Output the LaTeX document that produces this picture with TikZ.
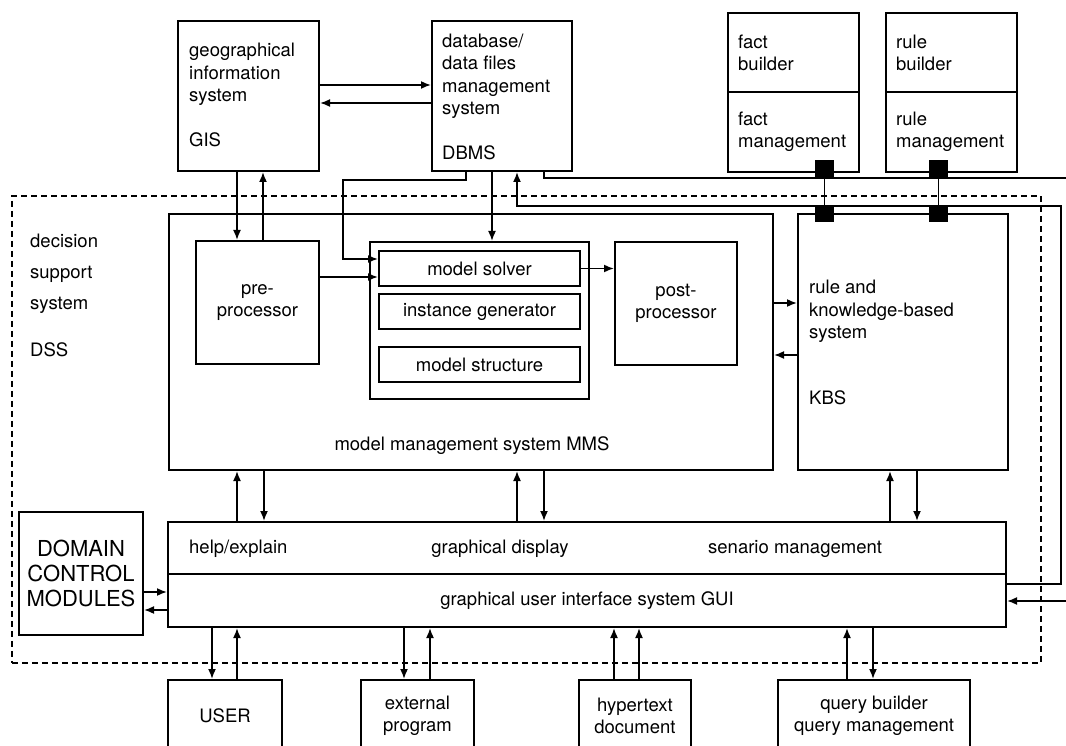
\documentclass[tikz,border=0pt]{standalone}
\usepackage{fontspec}
\setmainfont{TeX Gyre Heros}
\usepackage{tikz}
\usetikzlibrary{arrows.meta}

\begin{document}
\begin{tikzpicture}[x=1pt, y=1pt, >={Latex[length=10pt,width=8pt]},
  every node/.style={font=\fontsize{18.5pt}{22.5pt}\selectfont},
  box/.style={draw, line width=2pt, inner sep=0pt, anchor=north west, align=center},
  txt/.style={inner sep=0pt, anchor=base west, align=left},
  blk/.style={fill=black, minimum width=19pt, minimum height=17pt, inner sep=0pt},
  con/.style={line width=1.7pt}]
\path[use as bounding box, clip] (0,0) rectangle (1066,-746);

% outer dashed frame
\node[box, dashed, line width=1.6pt, dash pattern=on 6pt off 4pt, minimum width=1029pt, minimum height=467pt] (dss) at (11,-195) {};
\node[txt] (dsstxt) at (30,-356) {decision\\[8.5pt]support\\[8.5pt]system\\[24pt]DSS};

% top row
\node[box, minimum width=141pt, minimum height=150pt] (gis) at (177,-20) {};
\node[txt] (gistxt) at (189,-147) {geographical\\information\\system\\[22.5pt]GIS};
\node[box, minimum width=140pt, minimum height=150pt] (dbms) at (431,-20) {};
\node[txt] (dbmstxt) at (442,-160) {database/\\data files\\management\\system\\[22.5pt]DBMS};
\node[box, minimum width=131pt, minimum height=79pt] (factb) at (727,-12) {};
\node[box, minimum width=131pt, minimum height=80pt] (factm) at (727,-91) {};
\node[txt] (factbtxt) at (738,-71) {fact\\builder};
\node[txt] (factmtxt) at (738,-148) {fact\\management};
\node[box, minimum width=131pt, minimum height=79pt] (ruleb) at (885,-12) {};
\node[box, minimum width=131pt, minimum height=80pt] (rulem) at (885,-91) {};
\node[txt] (rulebtxt) at (896,-71) {rule\\builder};
\node[txt] (rulemtxt) at (896,-148) {rule\\management};

% model management system
\node[box, minimum width=604pt, minimum height=256pt] (mms) at (168,-213) {};
\node[inner sep=0pt, anchor=base] (mmstxt) at (472,-450) {model management system MMS};
\node[box, minimum width=123pt, minimum height=123pt] (pre) at (195,-240) {pre-\\processor};
\node[box, minimum width=219pt, minimum height=157pt] (mgroup) at (369,-241) {};
\node[box, minimum width=201pt, minimum height=35pt] (solver) at (378,-250) {model solver};
\node[box, minimum width=201pt, minimum height=35pt] (inst) at (378,-293) {instance generator};
\node[box, minimum width=201pt, minimum height=35pt] (struct) at (378,-346) {model structure};
\node[box, minimum width=122pt, minimum height=123pt] (post) at (614,-241) {post-\\processor};

% knowledge-based system
\node[box, minimum width=210pt, minimum height=256pt] (kbs) at (797,-213) {};
\node[txt] (kbstxt) at (809,-404) {rule and\\knowledge-based\\system\\[43pt]KBS};
\node[blk] (fsq1) at (824,-169) {};
\node[blk] (fsq2) at (824,-214) {};
\node[blk] (rsq1) at (938,-169) {};
\node[blk] (rsq2) at (938,-214) {};

% user interface
\node[box, minimum width=838pt, minimum height=52pt] (guitop) at (167,-521) {};
\node[box, minimum width=838pt, minimum height=53pt] (guibot) at (167,-573) {graphical user interface system GUI};
\node[txt] (helptxt) at (189,-553) {help/explain};
\node[inner sep=0pt, anchor=base] (disptxt) at (500,-553) {graphical display};
\node[txt] (sentxt) at (708,-553) {senario management};
\node[box, minimum width=124pt, minimum height=123pt, font=\fontsize{22pt}{25pt}\selectfont] (domain) at (18,-511) {DOMAIN\\CONTROL\\MODULES};

% outside
\node[box, minimum width=114pt, minimum height=72pt] (user) at (167,-679) {USER};
\node[box, minimum width=113pt, minimum height=72pt] (ext) at (360,-679) {external\\program};
\node[box, minimum width=112pt, minimum height=72pt] (hyper) at (578,-679) {hypertext\\document};
\node[box, minimum width=192pt, minimum height=72pt] (query) at (777,-679) {query builder\\query management};
\coordinate (rout) at (1066,-178);
\coordinate (rin) at (1066,-601);

% connectors
\draw[con,->] ([yshift=11]gis.east) -- ([yshift=11]gis.east -| dbms.west);
\draw[con,<-] ([yshift=-7]gis.east) -- ([yshift=-7]gis.east -| dbms.west);
\draw[con,->] ([xshift=60]gis.south west) -- ([xshift=42]pre.north west);
\draw[con,<-] ([xshift=86]gis.south west) -- ([xshift=68]pre.north west);
\draw[con,->] ([xshift=61]dbms.south west) -- ([xshift=123]mgroup.north west);
\draw[con,->] ([xshift=35]dbms.south west) -- ++(0,-8) -| ([xshift=-35,yshift=9.5]solver.west) -- ([yshift=9.5]solver.west);
\draw[con] ([xshift=113]dbms.south west) |- (rout);
\draw[con,->] ([yshift=25.5]pre.east) -- ([yshift=25.5]pre.east -| solver.west);
\draw[con,->] (solver.east) -- (solver.east -| post.west);
\draw[con,->] ([yshift=39]mms.east) -- ([yshift=39]mms.east -| kbs.west);
\draw[con,<-] ([yshift=-13]mms.east) -- ([yshift=-13]mms.east -| kbs.west);
\draw[line width=1pt] (fsq1) -- (fsq2);
\draw[line width=1pt] (rsq1) -- (rsq2);

\draw[con,->] ([xshift=70]guitop.north west) -- ([xshift=70]guitop.north west |- mms.south);
\draw[con,<-] ([xshift=97]guitop.north west) -- ([xshift=97]guitop.north west |- mms.south);
\draw[con,->] ([xshift=350]guitop.north west) -- ([xshift=350]guitop.north west |- mms.south);
\draw[con,<-] ([xshift=377]guitop.north west) -- ([xshift=377]guitop.north west |- mms.south);
\draw[con,->] ([xshift=723]guitop.north west) -- ([xshift=723]guitop.north west |- kbs.south);
\draw[con,<-] ([xshift=750]guitop.north west) -- ([xshift=750]guitop.north west |- kbs.south);
\draw[con,->] ([yshift=-18.5]domain.east) -- ([yshift=-18.5]domain.east -| guibot.west);
\draw[con,<-] ([yshift=-36.5]domain.east) -- ([yshift=-36.5]domain.east -| guibot.west);

\draw[con,->] ([xshift=45]guibot.south west) -- ([xshift=45]guibot.south west |- user.north);
\draw[con,<-] ([xshift=70]guibot.south west) -- ([xshift=70]guibot.south west |- user.north);
\draw[con,->] ([xshift=237]guibot.south west) -- ([xshift=237]guibot.south west |- ext.north);
\draw[con,<-] ([xshift=263]guibot.south west) -- ([xshift=263]guibot.south west |- ext.north);
\draw[con,<-] ([xshift=447]guibot.south west) -- ([xshift=447]guibot.south west |- hyper.north);
\draw[con,<-] ([xshift=472]guibot.south west) -- ([xshift=472]guibot.south west |- hyper.north);
\draw[con,<-] ([xshift=680]guibot.south west) -- ([xshift=680]guibot.south west |- query.north);
\draw[con,->] ([xshift=706]guibot.south west) -- ([xshift=706]guibot.south west |- query.north);

\draw[con,->] ([yshift=16.5]guibot.east) -- ++(54,0) |- ([xshift=86,yshift=-34]dbms.south west) -- ([xshift=86]dbms.south west);
\draw[con,->] (rin) -- (rin -| guibot.east);
\end{tikzpicture}
\end{document}
